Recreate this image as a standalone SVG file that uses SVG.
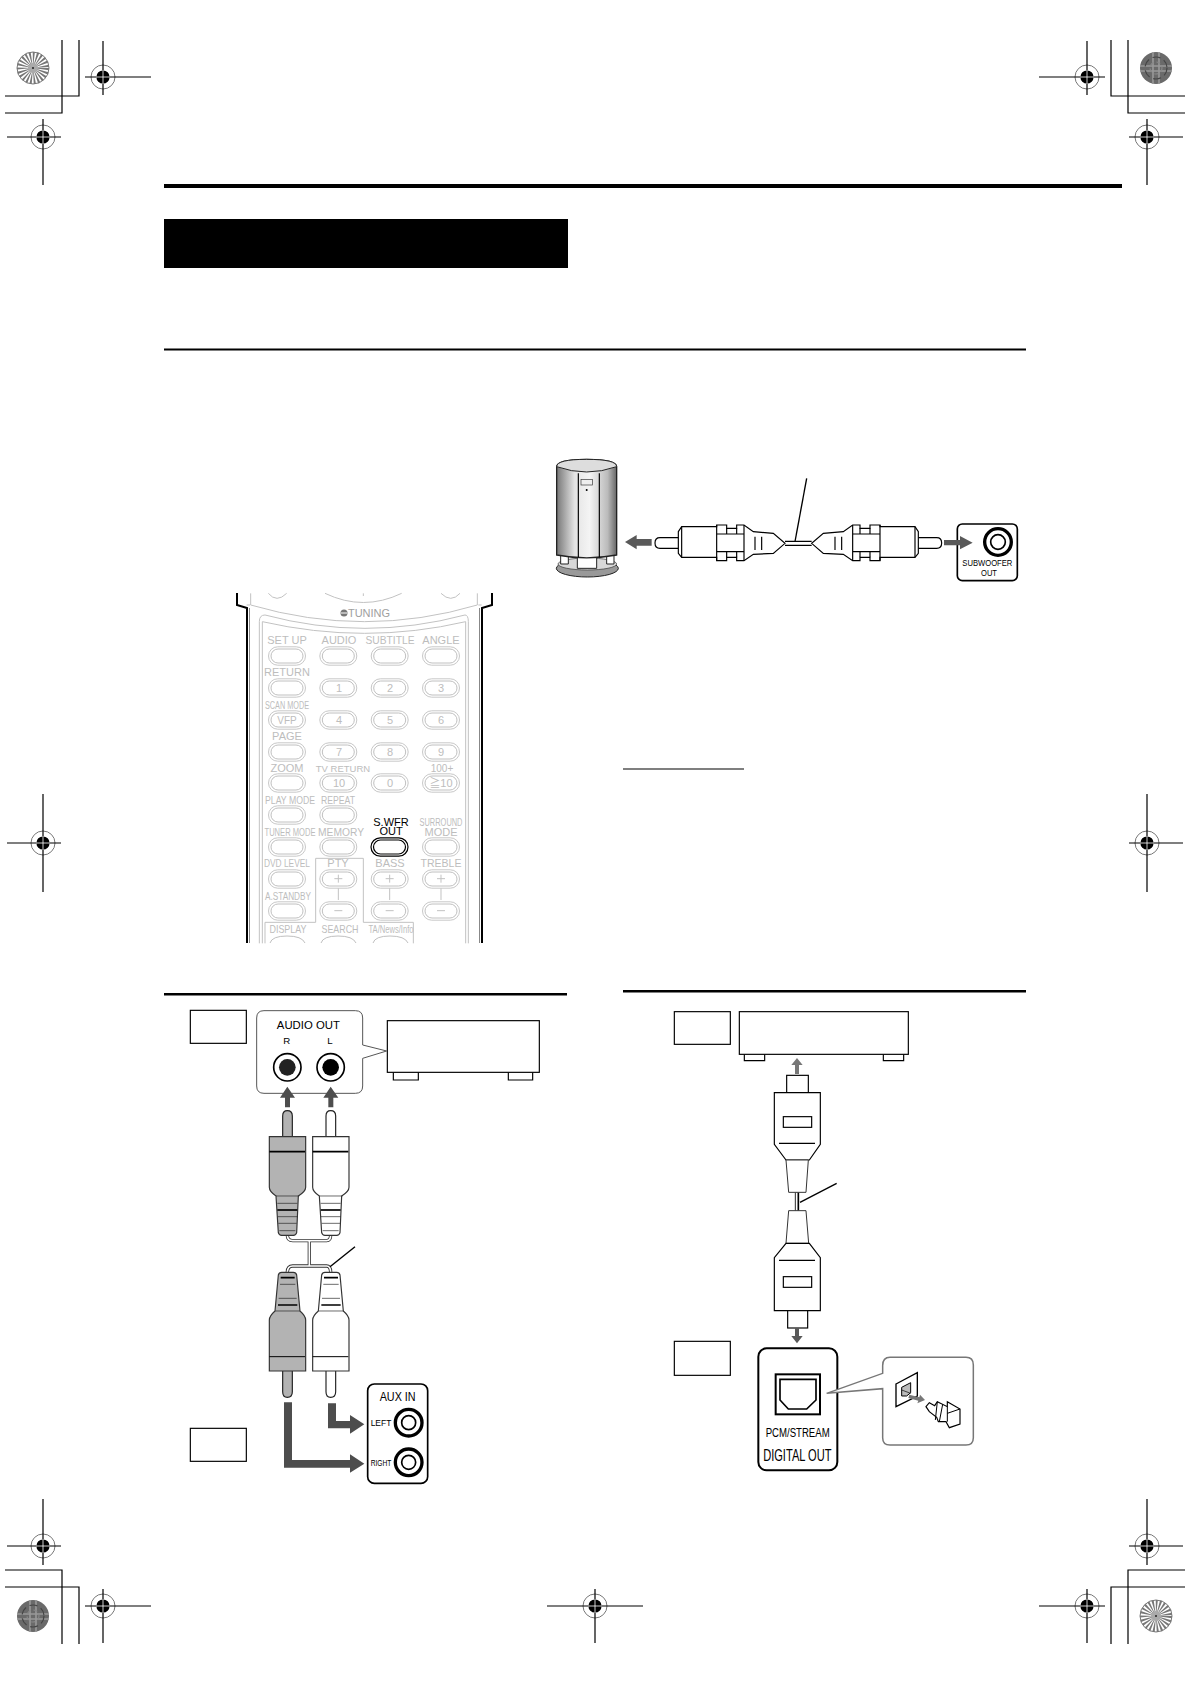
<svg xmlns="http://www.w3.org/2000/svg" width="1190" height="1684" viewBox="0 0 1190 1684">
<style>
text{font-family:"Liberation Sans",Arial,sans-serif}
.k{fill:none;stroke:#000;stroke-width:1.2}
.rl{fill:#bdbdbd;font-size:11px;text-anchor:middle}
.rs{fill:#bdbdbd;font-size:10px;text-anchor:middle}
.g{fill:none;stroke:#c2c2c2;stroke-width:3}
.z{fill:none;stroke:#000;stroke-width:3.5}
.zw{fill:#fff;stroke:#000;stroke-width:3.5}
.ar{fill:#4d4d4d}
.t{fill:#000;text-anchor:middle}
</style>
<defs>
<g id="reg"><circle r="12" fill="#fff" stroke="#777" stroke-width="1"/><path d="M-12 0H12M0-12V12" stroke="#000" stroke-width="1.200"/><circle r="6.600" fill="#000"/><path d="M-7 0H7M0-7V7" stroke="#fff" stroke-width=".8"/></g>
<g id="ray"><circle r="16" fill="#fff" stroke="#777" stroke-width="1"/><circle r="8.200" fill="none" stroke="#777" stroke-width="15.600" stroke-dasharray="1.150 1.100"/><circle r="5" fill="#aaa"/><circle r="1" fill="#222"/></g>
<g id="dark"><circle r="16" fill="#6a6a6a"/><path d="M-16-2H16M-16 3H16M-3-16V16M3-16V16" stroke="#999" stroke-width="1.600"/><circle r="11" fill="none" stroke="#444" stroke-width="1.200" stroke-dasharray="8 4"/><circle r="6" fill="none" stroke="#888" stroke-width="1.200" stroke-dasharray="4 3"/></g>
<g id="btn"><rect x="-18.500" y="-9.200" width="37" height="18.400" rx="9.200" fill="#fff" stroke="#c8c8c8" stroke-width="1"/><rect x="-16" y="-7" width="32" height="14" rx="7" fill="#fff" stroke="#c0c0c0" stroke-width="1"/></g>
<linearGradient id="sp"><stop offset="0" stop-color="#777"/><stop offset=".3" stop-color="#e4e4e4"/><stop offset=".55" stop-color="#f4f4f4"/><stop offset=".85" stop-color="#bbb"/><stop offset="1" stop-color="#666"/></linearGradient>
<g id="rca"><path d="M345 309Q345 293 360 293H420V325H360Q345 325 345 309Z" class="zw"/><path d="M415 275L425 260H530V255H560V265H590V255H612L640 275L700 280L735 310L700 340L640 343L612 362H590V352H560V362H530V352H425L415 340Z" class="zw"/><path d="M530 255V362M612 255V362M530 282H612M530 335H612M560 265V282M590 265V282M560 335V352M590 335V352M645 290V330M665 290V330M425 260V352" class="z"/></g>
<g id="rup"><path d="M338 440V378Q338 362 352 362Q367 362 367 378V440" fill="inherit" stroke="#222" stroke-width="3.500"/><path d="M298 440H407V592Q407 605 385 618L380 728Q378 736 370 736H335Q327 736 325 728L318 618Q298 605 298 592Z" fill="inherit" stroke="#333" stroke-width="3.500"/><path d="M298 485H405" stroke="#000" stroke-width="5"/><path d="M318 618H388M322 640H382M323 680H382M325 700H380M328 722H376" stroke="#222" stroke-width="2"/><path d="M322 660H382" stroke="#000" stroke-width="5"/></g>
<g id="rdn"><path d="M338 1143V1205Q338 1222 352 1222Q367 1222 367 1205V1143" fill="inherit" stroke="#222" stroke-width="3.500"/><path d="M298 1143H407V990Q407 978 390 963L380 855Q378 847 370 847H335Q327 847 325 855L315 963Q298 978 298 990Z" fill="inherit" stroke="#333" stroke-width="3.500"/><path d="M298 1100H405" stroke="#000" stroke-width="3"/><path d="M330 883H376M326 925H380M316 963H390" stroke="#222" stroke-width="2"/><path d="M332 863H374M324 945H382" stroke="#000" stroke-width="5"/></g>
</defs>

<g id="crop-marks">
<path class="k" d="M5 113H62V40M5 96H79V40M1185 96H1111V40M1185 113H1128V40M5 1570H62V1644M5 1587H79V1644M1185 1587H1111V1644M1185 1570H1128V1644"/>
<use href="#ray" x="33" y="68"/><use href="#dark" x="1156" y="68"/><use href="#dark" x="33" y="1616"/><use href="#ray" x="1156" y="1616"/>
<use href="#reg" x="103" y="77"/><use href="#reg" x="43" y="137"/><use href="#reg" x="1087" y="77"/><use href="#reg" x="1147" y="137"/><use href="#reg" x="43" y="843"/><use href="#reg" x="1147" y="843"/><use href="#reg" x="43" y="1546"/><use href="#reg" x="1147" y="1546"/><use href="#reg" x="103" y="1606"/><use href="#reg" x="1087" y="1606"/><use href="#reg" x="595" y="1606"/>
<path class="k" d="M85 77H91M115 77H151M103 41V65M103 89V95M7 137H31M55 137H61M43 119V125M43 149V185M1039 77H1075M1099 77H1105M1087 41V65M1087 89V95M1129 137H1135M1159 137H1183M1147 119V125M1147 149V185M7 843H31M55 843H61M43 794V831M43 855V892M1129 843H1135M1159 843H1183M1147 794V831M1147 855V892M7 1546H31M55 1546H61M43 1499V1534M43 1558V1565M1129 1546H1135M1159 1546H1183M1147 1499V1534M1147 1558V1565M85 1606H91M115 1606H151M103 1589V1594M103 1618V1643M1039 1606H1075M1099 1606H1105M1087 1589V1594M1087 1618V1643M547 1606H583M607 1606H643M595 1589V1594M595 1618V1643"/>
</g>

<g id="rules">
<rect x="164" y="184" width="958" height="4" fill="#000"/>
<rect x="164" y="219" width="404" height="49" fill="#000"/>
<rect x="164" y="348.500" width="862" height="2" fill="#000"/>
<rect x="623" y="768.500" width="121" height="1" fill="#000"/>
<rect x="164" y="993" width="403" height="2.500" fill="#000"/>
<rect x="623" y="990" width="403" height="2.500" fill="#000"/>
</g>

<g id="subwoofer-connection" transform="translate(540 440) scale(.33333)">
<g id="speaker">
<ellipse cx="142" cy="385" rx="93" ry="26" fill="#999" stroke="#222" stroke-width="3"/>
<ellipse cx="142" cy="372" rx="88" ry="18" fill="#d8d8d8" stroke="#333" stroke-width="2"/>
<path d="M62 345V372H85V345ZM112 345V385H170V345ZM200 345V372H222V345Z" fill="#fff" stroke="#222" stroke-width="3"/>
<path d="M50 80Q50 58 140 58Q230 58 230 80V345Q140 362 50 345Z" fill="url(#sp)" stroke="#222" stroke-width="4"/>
<path d="M50 80Q140 112 230 80Q230 58 140 58Q50 58 50 80Z" fill="#ddd" stroke="#222" stroke-width="3"/>
<path d="M115 100V352M178 100V352" class="z"/>
<rect x="123" y="118" width="34" height="17" fill="#eee" stroke="#333" stroke-width="2"/><circle cx="140" cy="150" r="3" fill="#000"/>
</g>
<g id="subwoofer-out">
<rect x="1252" y="252" width="180" height="170" rx="15" fill="#fff" stroke="#000" stroke-width="5"/>
<circle cx="1374" cy="306" r="40" fill="none" stroke="#000" stroke-width="10"/><circle cx="1374" cy="306" r="22" fill="none" stroke="#000" stroke-width="5"/>
<text x="1342" y="379" class="t" font-size="29" textLength="150" lengthAdjust="spacingAndGlyphs">SUBWOOFER</text>
<text x="1347" y="409" class="t" font-size="29" textLength="48" lengthAdjust="spacingAndGlyphs">OUT</text>
</g>
<g id="cable-sub">
<path d="M735 304H815M735 316H815" class="z"/><path d="M800 115L765 305" stroke="#000" stroke-width="4"/>
<use href="#rca"/><use href="#rca" transform="translate(1550 0) scale(-1 1)"/>
<path fill="#595959" d="M255 306L290 285V297H335V317H290V328Z"/>
<path fill="#595959" d="M1212 300H1260V288L1298 308L1260 328V316H1212Z"/>
</g>
</g>

<g id="remote">
<path fill="none" stroke="#000" stroke-width="2" d="M237 593V605L247 608V943M492 593V605L482 608V943"/>
<path fill="none" stroke="#888" stroke-width="1" d="M249.500 608V943M479.500 608V943"/>
<g transform="translate(225 580) scale(.33333)">
<path class="g" d="M77 40V75Q420 175 757 75V40M130 40Q155 70 185 40M300 40Q415 95 530 40M648 40Q678 70 705 40M415 40V48"/>
<path class="g" d="M103 1090V125Q103 105 120 105Q420 185 720 105Q730 105 730 125V1090M112 1090V125Q420 195 722 125V1090"/>
<path class="g" d="M75 75H65M760 75H770"/>
</g>
<g id="remote-buttons">
<use href="#btn" x="287" y="656"/><use href="#btn" x="338.300" y="656"/><use href="#btn" x="389.700" y="656"/><use href="#btn" x="441" y="656"/>
<use href="#btn" x="287" y="688"/><use href="#btn" x="338.300" y="688"/><use href="#btn" x="389.700" y="688"/><use href="#btn" x="441" y="688"/>
<use href="#btn" x="287" y="720"/><use href="#btn" x="338.300" y="720"/><use href="#btn" x="389.700" y="720"/><use href="#btn" x="441" y="720"/>
<use href="#btn" x="287" y="752"/><use href="#btn" x="338.300" y="752"/><use href="#btn" x="389.700" y="752"/><use href="#btn" x="441" y="752"/>
<use href="#btn" x="287" y="783"/><use href="#btn" x="338.300" y="783"/><use href="#btn" x="389.700" y="783"/><use href="#btn" x="441" y="783"/>
<use href="#btn" x="287" y="815"/><use href="#btn" x="338.300" y="815"/>
<use href="#btn" x="287" y="847"/><use href="#btn" x="338.300" y="847"/><use href="#btn" x="441" y="847"/>
<use href="#btn" x="287" y="879"/><use href="#btn" x="338.300" y="879"/><use href="#btn" x="389.700" y="879"/><use href="#btn" x="441" y="879"/>
<use href="#btn" x="287" y="911"/><use href="#btn" x="338.300" y="911"/><use href="#btn" x="389.700" y="911"/><use href="#btn" x="441" y="911"/>
</g>
<g transform="translate(225 760) scale(.33333)">
<path class="g" d="M120 550V487H272V295H415V487H565V550M340 385V420M494 385V420M648 385V420"/>
<path class="g" d="M328 356H352M340 344V368M328 452H352M482 356H506M494 344V368M482 452H506M636 356H660M648 344V368M636 452H660"/>
</g>
<path fill="#fff" stroke="#c0c0c0" d="M270 943Q272 936 287 936Q302 936 305 943M321 943Q323 936 338 936Q353 936 356 943M373 943Q375 936 390 936Q405 936 408 943"/>
<rect x="371" y="837.800" width="37" height="18.400" rx="9.200" fill="#fff" stroke="#000" stroke-width="1.200"/><rect x="373.500" y="840" width="32" height="14" rx="7" fill="#fff" stroke="#000" stroke-width="1.200"/>
<circle cx="344" cy="613" r="3.500" fill="#777"/><path d="M341 613H347" stroke="#fff"/>
<text x="369" y="617" class="rl" style="fill:#a0a0a0">TUNING</text>
<text x="287" y="644" class="rl">SET UP</text><text x="339" y="644" class="rl">AUDIO</text><text x="390" y="644" class="rl" textLength="49" lengthAdjust="spacingAndGlyphs">SUBTITLE</text><text x="441" y="644" class="rl">ANGLE</text>
<text x="287" y="676" class="rl">RETURN</text><text x="339" y="692" class="rl">1</text><text x="390" y="692" class="rl">2</text><text x="441" y="692" class="rl">3</text>
<text x="287" y="709" class="rs" textLength="44" lengthAdjust="spacingAndGlyphs">SCAN MODE</text>
<text x="287" y="724" class="rs">VFP</text><text x="339" y="724" class="rl">4</text><text x="390" y="724" class="rl">5</text><text x="441" y="724" class="rl">6</text>
<text x="287" y="740" class="rl">PAGE</text><text x="339" y="756" class="rl">7</text><text x="390" y="756" class="rl">8</text><text x="441" y="756" class="rl">9</text>
<text x="287" y="772" class="rl" font-size="10">ZOOM</text><text x="343" y="772" class="rs" style="font-size:9.500px">TV RETURN</text><text x="442" y="772" class="rs">100+</text>
<text x="339" y="787" class="rl">10</text><text x="390" y="787" class="rl">0</text><text x="441" y="787" class="rl" style="font-family:'Liberation Sans','Noto Sans CJK JP',sans-serif">≧10</text>
<text x="290" y="804" class="rs" textLength="50" lengthAdjust="spacingAndGlyphs">PLAY MODE</text><text x="338" y="804" class="rs" textLength="34" lengthAdjust="spacingAndGlyphs">REPEAT</text>
<text x="391" y="826" class="t" font-size="11">S.WFR</text><text x="391" y="835" class="t" font-size="11">OUT</text>
<text x="441" y="826" class="rs" textLength="43" lengthAdjust="spacingAndGlyphs">SURROUND</text><text x="441" y="836" class="rl">MODE</text>
<text x="290" y="836" class="rs" textLength="51" lengthAdjust="spacingAndGlyphs">TUNER MODE</text><text x="341" y="836" class="rs" textLength="46" lengthAdjust="spacingAndGlyphs">MEMORY</text>
<text x="287" y="867" class="rs" textLength="46" lengthAdjust="spacingAndGlyphs">DVD LEVEL</text><text x="338" y="867" class="rl">PTY</text><text x="390" y="867" class="rl">BASS</text><text x="441" y="867" class="rl" textLength="41" lengthAdjust="spacingAndGlyphs">TREBLE</text>
<text x="288" y="900" class="rs" textLength="46" lengthAdjust="spacingAndGlyphs">A.STANDBY</text>
<text x="288" y="933" class="rl" textLength="37" lengthAdjust="spacingAndGlyphs">DISPLAY</text><text x="340" y="933" class="rl" textLength="37" lengthAdjust="spacingAndGlyphs">SEARCH</text><text x="391" y="933" class="rs" textLength="45" lengthAdjust="spacingAndGlyphs">TA/News/Info</text>
</g>

<g id="analog-connection" transform="translate(170 990) scale(.33333)">
<g id="box-a"><rect x="61" y="61" width="168" height="99" class="zw"/></g>
<g id="box-b"><rect x="61" y="1315" width="168" height="99" class="zw"/></g>
<g id="device-a">
<path class="zw" d="M670 247V270H745V247M1015 247V270H1088V247"/>
<rect x="652" y="92" width="456" height="155" fill="#fff" stroke="#000" stroke-width="3.500"/>
</g>
<g id="audio-out">
<path d="M578 165V84Q578 62 556 62H282Q260 62 260 84V288Q260 310 282 310H556Q578 310 578 288V205L650 183Z" fill="#fff" stroke="#555" stroke-width="3"/>
<text x="415" y="117" class="t" font-size="34">AUDIO OUT</text>
<text x="350" y="163" class="t" font-size="29">R</text><text x="480" y="163" class="t" font-size="29">L</text>
<circle cx="352" cy="232" r="41" fill="#fff" stroke="#000" stroke-width="5"/><circle cx="352" cy="232" r="25" fill="#222"/>
<circle cx="482" cy="232" r="41" fill="#fff" stroke="#000" stroke-width="5"/><circle cx="482" cy="232" r="25" fill="#000"/>
</g>
<g id="cable-audio">
<path class="ar" d="M352 290L375 323H360V352H345V323H330ZM482 290L505 323H490V352H475V323H460Z"/>
<path d="M352 735Q352 752 368 752H470Q482 752 482 735M352 848Q352 828 368 828H470Q482 828 482 848M418 752V828" fill="none" stroke="#333" stroke-width="10"/>
<path d="M352 735Q352 752 368 752H470Q482 752 482 735M352 848Q352 828 368 828H470Q482 828 482 848M418 752V828" fill="none" stroke="#fff" stroke-width="5"/>
<path d="M480 830L555 770" stroke="#000" stroke-width="4"/>
<use href="#rup" fill="#b3b3b3"/><use href="#rup" fill="#fff" x="130"/>
<use href="#rdn" fill="#b3b3b3"/><use href="#rdn" fill="#fff" x="130"/>
<path class="ar" d="M474 1240H498V1293H540V1275L583 1303L540 1331V1315H474ZM342 1237H366V1410H540V1393L583 1421L540 1448V1433H342Z"/>
</g>
<g id="aux-in">
<rect x="593" y="1182" width="180" height="298" rx="20" fill="#fff" stroke="#000" stroke-width="5"/>
<text x="683" y="1232" class="t" font-size="38" textLength="108" lengthAdjust="spacingAndGlyphs">AUX IN</text>
<text x="633" y="1309" class="t" font-size="28" textLength="62" lengthAdjust="spacingAndGlyphs">LEFT</text>
<text x="633" y="1429" class="t" font-size="28" textLength="62" lengthAdjust="spacingAndGlyphs">RIGHT</text>
<circle cx="716" cy="1298" r="40" fill="#fff" stroke="#000" stroke-width="10"/><circle cx="716" cy="1298" r="21" fill="none" stroke="#000" stroke-width="5"/>
<circle cx="716" cy="1417" r="40" fill="#fff" stroke="#000" stroke-width="10"/><circle cx="716" cy="1417" r="21" fill="none" stroke="#000" stroke-width="5"/>
</g>
</g>

<g id="digital-connection" transform="translate(660 990) scale(.33333)">
<g id="box-c"><rect x="43" y="65" width="168" height="98" class="zw"/></g>
<g id="box-d"><rect x="43" y="1054" width="168" height="102" class="zw"/></g>
<g id="device-b">
<path class="zw" d="M253 193V212H314V193M670 193V212H731V193"/>
<rect x="238" y="65" width="507" height="128" fill="#fff" stroke="#000" stroke-width="3.500"/>
</g>
<g id="optical-cable">
<path fill="#777" d="M411 204L428 225H417V252H405V225H394Z"/>
<path d="M406 607V662" stroke="#000" stroke-width="2.500"/><path d="M415 607V662" stroke="#000" stroke-width="5"/>
<path d="M420 637L530 580" stroke="#000" stroke-width="4"/>
<rect x="380" y="256" width="65" height="52" class="zw"/>
<path d="M343 308H481V463L448 510H378L343 463Z" class="zw"/>
<path d="M357 460H465" class="z"/><rect x="370" y="380" width="85" height="32" class="zw"/>
<path d="M378 510H445L438 607H386Z" fill="#fff" stroke="#333" stroke-width="3"/>
<path d="M386 662H438L446 760H378Z" fill="#fff" stroke="#333" stroke-width="3"/>
<path d="M378 760H448L481 803V962H343V803Z" class="zw"/>
<path d="M357 811H465" class="z"/><rect x="370" y="860" width="85" height="32" class="zw"/>
<rect x="383" y="962" width="60" height="52" class="zw"/>
<path fill="#595959" d="M411 1060L394 1038H405V1014H417V1038H428Z"/>
</g>
</g>
<g id="digital-out" transform="translate(660 1310) scale(.33333)">
<rect x="295" y="115" width="237" height="366" rx="25" fill="#fff" stroke="#000" stroke-width="6"/>
<rect x="347" y="193" width="133" height="120" fill="none" stroke="#000" stroke-width="6"/>
<path d="M360 208H468V270L440 297H385L360 270Z" fill="none" stroke="#000" stroke-width="5"/>
<text x="413" y="382" class="t" font-size="40" textLength="192" lengthAdjust="spacingAndGlyphs">PCM/STREAM</text>
<text x="412" y="452" class="t" font-size="48" textLength="205" lengthAdjust="spacingAndGlyphs">DIGITAL OUT</text>
</g>
<g id="cap-detail" transform="translate(660 1310) scale(.33333)">
<path d="M668 190V167Q668 142 690 142H918Q940 142 940 165V383Q940 405 918 405H690Q668 405 668 383V236L500 250Z" fill="#fff" stroke="#777" stroke-width="4.500"/>
<path d="M708 222L772 188V258L708 290Z" fill="#fff" stroke="#000" stroke-width="4"/>
<path d="M725 232L752 218V248L740 258L725 258Z" fill="#bbb" stroke="#000" stroke-width="3"/><path d="M725 240L752 250" stroke="#000" stroke-width="2"/>
<path fill="#777" d="M748 254L778 262L780 254L795 270L772 280L775 272L745 264Z"/>
<path d="M798 290L808 278L824 287L832 275L862 290L862 275L900 297V342L868 353L858 335L835 335L830 322L808 305Z" fill="#fff" stroke="#000" stroke-width="3.500"/>
<path d="M832 275L826 330M848 283L838 335M862 290V335M862 310L900 297" fill="none" stroke="#000" stroke-width="3"/>
</g>
</svg>
